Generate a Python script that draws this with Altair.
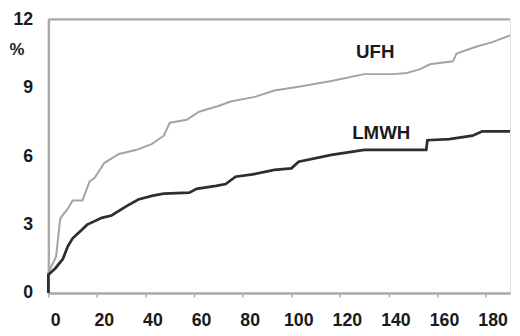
import altair as alt
import pandas as pd

# LMWH curve (days, %)
lmwh_x = [0, 0, 3, 6, 8, 10, 14, 16, 22, 26, 32, 37, 43, 47.5, 58, 61, 69, 73, 77, 84, 93, 100, 103, 116.5, 130, 155.5, 156, 165, 174.6, 178.6, 190]
lmwh_y = [0, 0.8, 1.1, 1.5, 2.05, 2.4, 2.8, 3.0, 3.3, 3.4, 3.8, 4.1, 4.27, 4.36, 4.4, 4.57, 4.7, 4.78, 5.1, 5.2, 5.4, 5.47, 5.76, 6.06, 6.28, 6.28, 6.7, 6.75, 6.9, 7.09, 7.09]

# UFH curve (days, %)
ufh_x = [0, 0, 3.2, 4.8, 5.3, 8, 10, 14, 17, 19, 23, 29, 36, 42.5, 47.5, 50, 57, 62, 70, 75, 85, 93, 103, 116.5, 130, 142, 147.5, 153, 157, 166.5, 168, 176, 182.7, 190]
ufh_y = [0, 0.9, 1.6, 3.2, 3.33, 3.7, 4.06, 4.06, 4.9, 5.04, 5.7, 6.1, 6.27, 6.53, 6.9, 7.47, 7.6, 7.95, 8.2, 8.4, 8.6, 8.88, 9.05, 9.3, 9.6, 9.6, 9.65, 9.82, 10.03, 10.16, 10.5, 10.8, 11.0, 11.3]

series_names = ["UFH", "LMWH"]
label_x = [134.5, 137]
label_y = [10.55, 7.0]

x_ticks = list(range(0, 190, 10))
y_ticks = [0, 3, 6, 9, 12]

rows = []
for i, (x, y) in enumerate(zip(ufh_x, ufh_y)):
    rows.append({"day": x, "pct": y, "series": "UFH", "i": i})
for i, (x, y) in enumerate(zip(lmwh_x, lmwh_y)):
    rows.append({"day": x, "pct": y, "series": "LMWH", "i": i})
df = pd.DataFrame(rows)
labels = pd.DataFrame({"day": label_x, "pct": label_y, "name": series_names})

FONT = "Liberation Sans"

xscale = alt.Scale(domain=[0, 190], nice=False, zero=False)
yscale = alt.Scale(domain=[0, 12], nice=False)

xaxis = alt.Axis(
    values=x_ticks,
    labelExpr="datum.value % 20 == 0 ? datum.label : ''",
    title=None, grid=False, labelFont=FONT, labelFontSize=18, labelFontWeight="bold",
    labelColor="#1a1a1a", labelOffset=7, labelPadding=15, tickSize=4, tickColor="#aaaaaa",
    tickWidth=1.5, domainColor="#aaaaaa", domainWidth=2.5, labelFlush=False, labelOverlap=False,
)
yaxis = alt.Axis(
    values=y_ticks, title=None, grid=False, ticks=False, labelFont=FONT, labelFontSize=18,
    labelFontWeight="bold", labelColor="#1a1a1a", labelPadding=16, domainColor="#aaaaaa",
    domainWidth=2.5, labelFlush=False,
)

lines = alt.Chart(df).mark_line(interpolate="linear", strokeJoin="miter").encode(
    x=alt.X("day:Q", scale=xscale, axis=xaxis),
    y=alt.Y("pct:Q", scale=yscale, axis=yaxis),
    detail="series:N",
    order="i:Q",
    color=alt.Color("series:N", scale=alt.Scale(domain=["UFH", "LMWH"], range=["#a3a3a3", "#2e2e2e"]), legend=None),
    strokeWidth=alt.StrokeWidth("series:N", scale=alt.Scale(domain=["UFH", "LMWH"], range=[2, 2.8]), legend=None),
)

top = alt.Chart(pd.DataFrame({"v": [12]})).mark_rule(color="#aaaaaa", strokeWidth=2.5).encode(
    y=alt.Y("v:Q", scale=yscale)
)

text = alt.Chart(labels).mark_text(font=FONT, fontSize=19, fontWeight="bold", color="#1a1a1a").encode(
    x=alt.X("day:Q", scale=xscale), y=alt.Y("pct:Q", scale=yscale), text="name:N"
)

pct = alt.Chart(pd.DataFrame({"t": ["%"]})).mark_text(
    font=FONT, fontSize=17, fontWeight="bold", color="#1a1a1a"
).encode(x=alt.value(-32), y=alt.value(31), text="t:N")

chart = alt.layer(lines, top, text, pct).properties(
    width=469, height=278,
    autosize=alt.AutoSizeParams(type="none"),
    padding={"left": 41, "top": 9, "right": 2, "bottom": 36},
).configure_view(stroke=None).configure(background="white")

chart.save("out.html", embed_options={"renderer": "svg", "actions": False})
